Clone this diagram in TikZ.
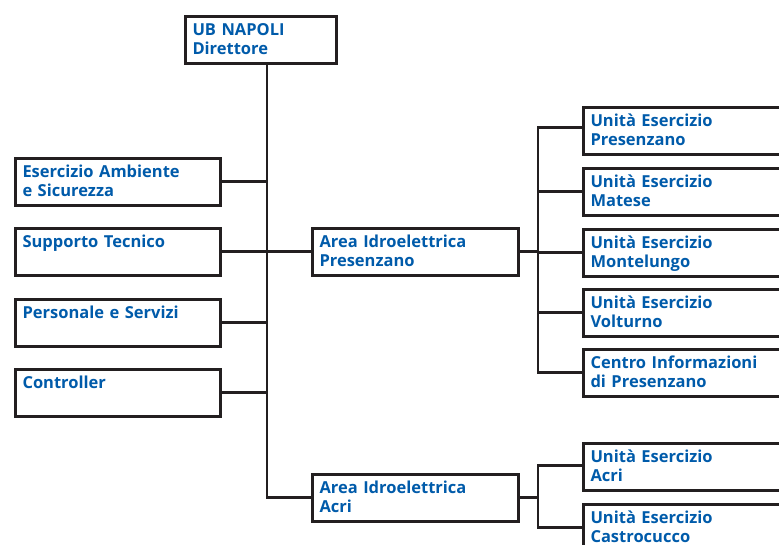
\documentclass[tikz,border=0pt]{standalone}
\usepackage{fontspec}
\newfontfamily\orgfont{Open Sans}
\definecolor{orgblue}{RGB}{0,91,170}
\definecolor{orgline}{RGB}{35,31,32}
\newcommand{\orgtext}[1]{\rule{0pt}{14.5pt}#1\rule[-4.5pt]{0pt}{4.5pt}}

\begin{document}
\begin{tikzpicture}[x=1pt,y=-1pt,
    orgbox/.style={draw=orgline,line width=3pt,fill=white,anchor=north west,
      inner xsep=7pt,inner ysep=0pt,minimum height=46.5pt,align=left,
      font=\orgfont\bfseries\fontsize{16.5}{19}\selectfont,text=orgblue},
    link/.style={draw=orgline,line width=2.6pt}]
    %\draw[help lines] (0,0) grid (779,544);
    \useasboundingbox (0,0) rectangle (779,544);
    \clip (0,0) rectangle (779,544);

    \coordinate (trunk) at (267,0);
    \coordinate (bus) at (538,0);

    \node[orgbox,text width=137pt] (ub) at (184,15) {\orgtext{UB NAPOLI\\Direttore}};

    \foreach \n/\y/\txt in {amb/157/{Esercizio Ambiente\\e Sicurezza},
        sup/227/{Supporto Tecnico\\}, pers/298/{Personale e Servizi\\},
        ctrl/368/{Controller\\}}
    	\node[orgbox,text width=191pt] (\n) at (14,\y) {\orgtext{\txt}};

    \node[orgbox,text width=192pt] (presz) at (311,227) {\orgtext{Area Idroelettrica\\Presenzano}};
    \node[orgbox,text width=192pt] (acri) at (311,473) {\orgtext{Area Idroelettrica\\Acri}};

    \foreach \n/\y/\txt in {up/106/{Unità Esercizio\\Presenzano},
        mat/167/{Unità Esercizio\\Matese}, mont/228/{Unità Esercizio\\Montelungo},
        volt/288/{Unità Esercizio\\Volturno}, cip/348/{Centro Informazioni\\di Presenzano},
        uacri/442/{Unità Esercizio\\Acri}, castro/503/{Unità Esercizio\\Castrocucco}}
    	\node[orgbox,text width=224pt] (\n) at (582,\y) {\orgtext{\txt}};

    % connectors
    \draw[link] (ub.south -| trunk) |- (acri.west);
    \foreach \n in {amb,sup,pers,ctrl}
    	\draw[link] (\n.east) -- (\n.east -| trunk);
    \draw[link] (presz.west) -- (presz.west -| trunk);
    \draw[link] (presz.east) -- (presz.east -| bus);
    \draw[link] ([yshift=3.5pt]up.west) -| (bus |- cip.west) -- (cip.west);
    \foreach \n in {mat,mont,volt}
    	\draw[link] (\n.west) -- (\n.west -| bus);
    \draw[link] (acri.east) -- (acri.east -| bus);
    \draw[link] ([yshift=1pt]uacri.west) -| (bus |- castro.west) -- (castro.west);
\end{tikzpicture}
\end{document}
